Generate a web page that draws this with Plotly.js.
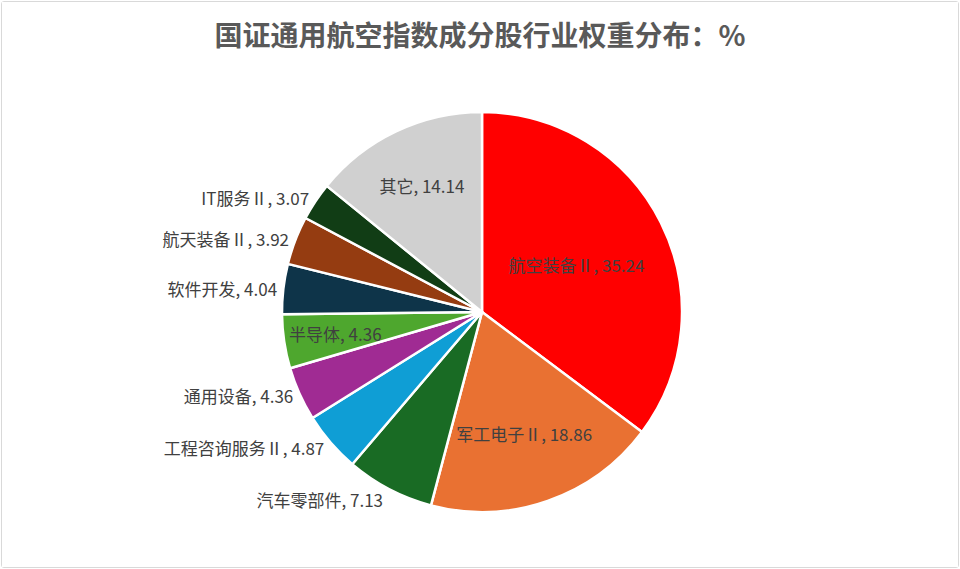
<!DOCTYPE html>
<html><head><meta charset="utf-8">
<script src="https://cdn.plot.ly/plotly-3.0.1.min.js"></script>
<style>html,body{margin:0;padding:0;background:#fff}#c{position:absolute;left:1px;top:1px;width:956px;height:565px;border:1px solid #d9d9d9;border-radius:3px;box-sizing:content-box}</style>
</head><body><div id="c"></div>
<script>
const categories = ['航空装备Ⅱ','军工电子Ⅱ','汽车零部件','工程咨询服务Ⅱ','通用设备','半导体','软件开发','航天装备Ⅱ','IT服务Ⅱ','其它'];
const weights = [35.24,18.86,7.13,4.87,4.36,4.36,4.04,3.92,3.07,14.14];
const colors = ['#FF0000','#E97132','#196B24','#0F9ED5','#A02B93','#4EA72E','#0E3449','#953C11','#113D15','#D0D0D0'];
const positions = ['inside','inside','outside','outside','outside','none','outside','outside','outside','inside'];
const fnt = 'DengXian, "Noto Sans CJK SC", sans-serif';
const W = 956, H = 565, T = 110, B = 55;
const cx = 480/W, rx = 200/W, ry = 200/(H-T-B);
// labels drawn as annotations (slices where 'none' is set), positioned from the slice mid-angle
const total = weights.reduce((a,b)=>a+b,0);
const anns = [];
let cum = 0;
weights.forEach((v,i)=>{
  const mid = (cum + v/2)/total*2*Math.PI; cum += v;
  if (positions[i] === 'none') {
    anns.push({xref:'paper', yref:'paper', x: cx + 0.74*rx*Math.sin(mid), y: 0.5 + 0.74*ry*Math.cos(mid),
      text: categories[i] + ', ' + v.toFixed(2), showarrow:false, xanchor:'center', yanchor:'middle',
      font:{family:fnt, size:17, color:'#404040'}});
  }
});
Plotly.newPlot('c', [{
  type:'pie', labels:categories, values:weights, sort:false, direction:'clockwise', rotation:0,
  marker:{colors:colors, line:{color:'#ffffff', width:2.5}},
  texttemplate:'%{label}, %{value:.2f}', textposition:positions, insidetextorientation:'horizontal',
  textfont:{family:fnt, size:17, color:'#404040'}, outsidetextfont:{family:fnt, size:17, color:'#404040'},
  insidetextfont:{family:fnt, size:17, color:'#404040'},
  domain:{x:[280/W,680/W], y:[0,1]}, hoverinfo:'none', showlegend:false
}], {
  width:W, height:H, margin:{l:0,r:0,t:T,b:B}, automargin:false,
  title:{text:'<b>国证通用航空指数成分股行业权重分布：%</b>', x:0.5, xanchor:'center', y:1-34/H, yanchor:'middle',
    font:{family:fnt, size:28, color:'#595959'}},
  annotations:anns,
  paper_bgcolor:'#ffffff', showlegend:false
}, {displayModeBar:false, staticPlot:true});
</script></body></html>
